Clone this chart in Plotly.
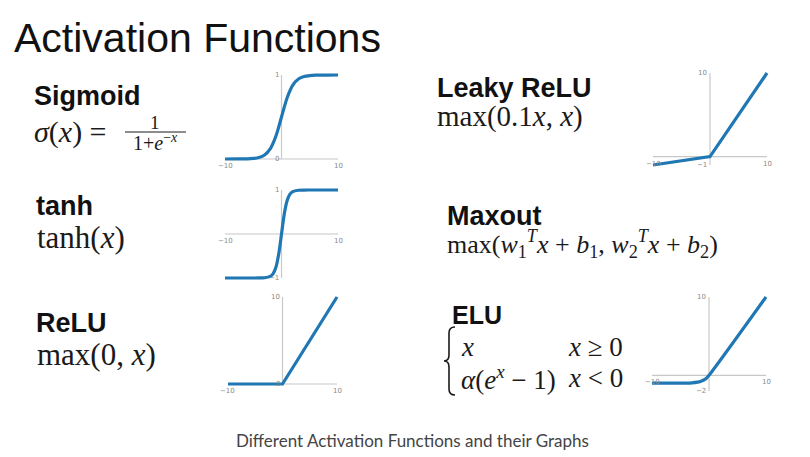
import plotly.graph_objects as go

W, H = 810, 457
OX, OY = 8, 8  # page body margin of the written html

# ---------------- data ----------------
sig_x = [-10, -8, -6, -5, -4, -3, -2, -1, 0, 1, 2, 3, 4, 5, 6, 8, 10]
sig_y = [0.0, 0.0003, 0.0025, 0.007, 0.018, 0.047, 0.12, 0.27, 0.5, 0.73, 0.88, 0.953, 0.982, 0.993, 0.9975, 0.9997, 1.0]

tanh_x = [-10, -5, -4, -3, -2, -1.5, -1, -0.5, 0, 0.5, 1, 1.5, 2, 3, 4, 5, 10]
tanh_y = [-1.0, -0.9999, -0.999, -0.995, -0.964, -0.905, -0.762, -0.462, 0.0, 0.462, 0.762, 0.905, 0.964, 0.995, 0.999, 0.9999, 1.0]

relu_x = [-10, 0, 10]
relu_y = [0, 0, 10]

leaky_x = [-10, 0, 10]
leaky_y = [-1, 0, 10]

elu_x = [-10, -6, -4, -3, -2, -1.5, -1, -0.5, 0, 10]
elu_y = [-1.0, -0.998, -0.982, -0.95, -0.865, -0.777, -0.632, -0.393, 0.0, 10]

names = ["Sigmoid", "tanh", "ReLU", "Leaky ReLU", "Maxout", "ELU"]
caption = "Different Activation Functions and their Graphs"
title = "Activation Functions"

panels = {
    "sig":   dict(x=sig_x,   y=sig_y,   xr=(-10, 10), yr=(0, 1),   spine_y=(0, 1)),
    "tanh":  dict(x=tanh_x,  y=tanh_y,  xr=(-10, 10), yr=(-1, 1),  spine_y=(-1, 1)),
    "relu":  dict(x=relu_x,  y=relu_y,  xr=(-10, 10), yr=(0, 10),  spine_y=(0, 10)),
    "leaky": dict(x=leaky_x, y=leaky_y, xr=(-10, 10), yr=(-1, 10), spine_y=(-1, 10)),
    "elu":   dict(x=elu_x,   y=elu_y,   xr=(-10, 10), yr=(-2, 10), spine_y=(-2, 10)),
}
ticks = {
    "sig":   [(0, 1, "1", "y"), (0, 0, "0", "y"), (-10, 0, "−10", "x"), (10, 0, "10", "x")],
    "tanh":  [(0, 1, "1", "y"), (0, -1, "−1", "y"), (-10, 0, "−10", "x"), (10, 0, "10", "x")],
    "relu":  [(0, 10, "10", "y"), (0, 0, "0", "y"), (-10, 0, "−10", "x"), (10, 0, "10", "x")],
    "leaky": [(0, 10, "10", "y"), (0, -1, "−1", "y"), (-10, 0, "−10", "x"), (10, 0, "10", "x")],
    "elu":   [(0, 10, "10", "y"), (0, -2, "−2", "y"), (-10, 0, "−10", "x"), (10, 0, "10", "x")],
}

# ---------------- layout (pixel placement of each panel) ----------------
place = {
    "sig":   (225, 338, 159, 75),
    "tanh":  (225, 338, 278, 190),
    "relu":  (228, 337, 384, 297),
    "leaky": (653, 767, 165, 73),
    "elu":   (652, 766, 391, 297),
}


def PX(s):
    return (s - OX) / W


def PY(s):
    return 1 - (s - OY) / H


fig = go.Figure()
LINE = "#1f77b4"
SPINE = "#c8c8c8"
annotations = []
layout_axes = {}

for i, key in enumerate(["sig", "tanh", "relu", "leaky", "elu"]):
    p = panels[key]
    px0, px1, py0, py1 = place[key]
    x0, x1 = p["xr"]
    y0, y1 = p["yr"]
    sx = (px1 - px0) / (x1 - x0)
    sy = (py0 - py1) / (y1 - y0)
    padpx = 6
    padx, pady = padpx / sx, padpx / sy
    xdom = [PX(px0 - padpx), PX(px1 + padpx)]
    ydom = [PY(py0 + padpx), PY(py1 - padpx)]
    n = "" if i == 0 else str(i + 1)
    xa, ya = "x" + n, "y" + n
    layout_axes["xaxis" + n] = dict(domain=xdom, range=[x0 - padx, x1 + padx], visible=False,
                                     anchor=ya, fixedrange=True)
    layout_axes["yaxis" + n] = dict(domain=ydom, range=[y0 - pady, y1 + pady], visible=False,
                                     anchor=xa, fixedrange=True)
    fig.add_trace(go.Scatter(x=[x0, x1], y=[0, 0], mode="lines", xaxis=xa, yaxis=ya,
                             line=dict(color=SPINE, width=1.2), hoverinfo="skip"))
    fig.add_trace(go.Scatter(x=[0, 0], y=list(p["spine_y"]), mode="lines", xaxis=xa, yaxis=ya,
                             line=dict(color=SPINE, width=1.2), hoverinfo="skip"))
    shape = "spline" if key in ("sig", "tanh", "elu") else "linear"
    fig.add_trace(go.Scatter(x=p["x"], y=p["y"], mode="lines", xaxis=xa, yaxis=ya,
                             line=dict(color=LINE, width=3.2, shape=shape, smoothing=0.8),
                             hoverinfo="skip"))
    for (tx, ty, tt, kind) in ticks[key]:
        if kind == "y":
            annotations.append(dict(x=tx, y=ty, xref=xa, yref=ya, text=tt, showarrow=False,
                                    xanchor="right", yanchor="middle", xshift=-1,
                                    font=dict(size=7, color="#8a8a8a", family="DejaVu Sans")))
        else:
            annotations.append(dict(x=tx, y=ty, xref=xa, yref=ya, text=tt, showarrow=False,
                                    xanchor="center", yanchor="top", yshift=-1,
                                    font=dict(size=7, color="#8a8a8a", family="DejaVu Sans")))


def txt(px, py, text, size, family, color="#111", xanchor="left", yanchor="middle"):
    annotations.append(dict(x=PX(px), y=PY(py), xref="paper", yref="paper", text=text,
                            showarrow=False, xanchor=xanchor, yanchor=yanchor,
                            font=dict(size=size, family=family, color=color)))


SANS = "Liberation Sans"
SERIF = "Liberation Serif"
MC = "#1a1a1a"

# title
txt(12, 38, title, 41, SANS)
# labels
txt(32, 96, "<b>Sigmoid</b>", 27, SANS)
txt(34, 206, "<b>tanh</b>", 27, SANS)
txt(34, 323, "<b>ReLU</b>", 27, SANS)
txt(435, 88, "<b>Leaky ReLU</b>", 27, SANS)
txt(445, 216, "<b>Maxout</b>", 27, SANS)
txt(450, 315, "<b>ELU</b>", 25, SANS)

# formulas
txt(32, 132, "<i>σ</i>(<i>x</i>) = ", 30, SERIF, MC)
txt(155, 122, "1", 19, SERIF, MC, xanchor="center")
txt(155, 142, "1+<i>e</i><sup>−<i>x</i></sup>", 20, SERIF, MC, xanchor="center")
txt(35, 238, "tanh(<i>x</i>)", 31, SERIF, MC)
txt(35, 354, "max(0, <i>x</i>)", 31, SERIF, MC)
txt(435, 117, "max(0.1<i>x</i>, <i>x</i>)", 29, SERIF, MC)
txt(445, 244, "max(<i>w</i><sub>1</sub><sup><i>T</i></sup><i>x</i> + <i>b</i><sub>1</sub>, "
              "<i>w</i><sub>2</sub><sup><i>T</i></sup><i>x</i> + <i>b</i><sub>2</sub>)", 26, SERIF, MC)
txt(459, 347, "<i>x</i>", 27, SERIF, MC)
txt(566, 347, "<i>x</i> ≥ 0", 27, SERIF, MC)
txt(459, 378, "<i>α</i>(<i>e</i><sup><i>x</i></sup> − 1)", 27, SERIF, MC)
txt(566, 378, "<i>x</i> &lt; 0", 27, SERIF, MC)

# caption
txt(412, 440, caption, 17, "Lato", "#444", xanchor="center")


def P(x, y):
    return f"{PX(x):.5f},{PY(y):.5f}"


brace = ("M " + P(455, 327) + " Q " + P(449, 327) + " " + P(449, 333) +
         " L " + P(449, 355) + " Q " + P(449, 361) + " " + P(444, 361) +
         " Q " + P(449, 361) + " " + P(449, 367) +
         " L " + P(449, 389) + " Q " + P(449, 395) + " " + P(455, 395))

shapes = [
    dict(type="line", xref="paper", yref="paper", x0=PX(125), x1=PX(186),
         y0=PY(132), y1=PY(132), line=dict(color=MC, width=1)),
    dict(type="path", xref="paper", yref="paper", path=brace, line=dict(color=MC, width=1.6)),
]

fig.update_layout(width=W, height=H, margin=dict(l=0, r=0, t=0, b=0), showlegend=False,
                  paper_bgcolor="white", plot_bgcolor="white",
                  annotations=annotations, shapes=shapes, **layout_axes)

fig.write_html("out.html")
